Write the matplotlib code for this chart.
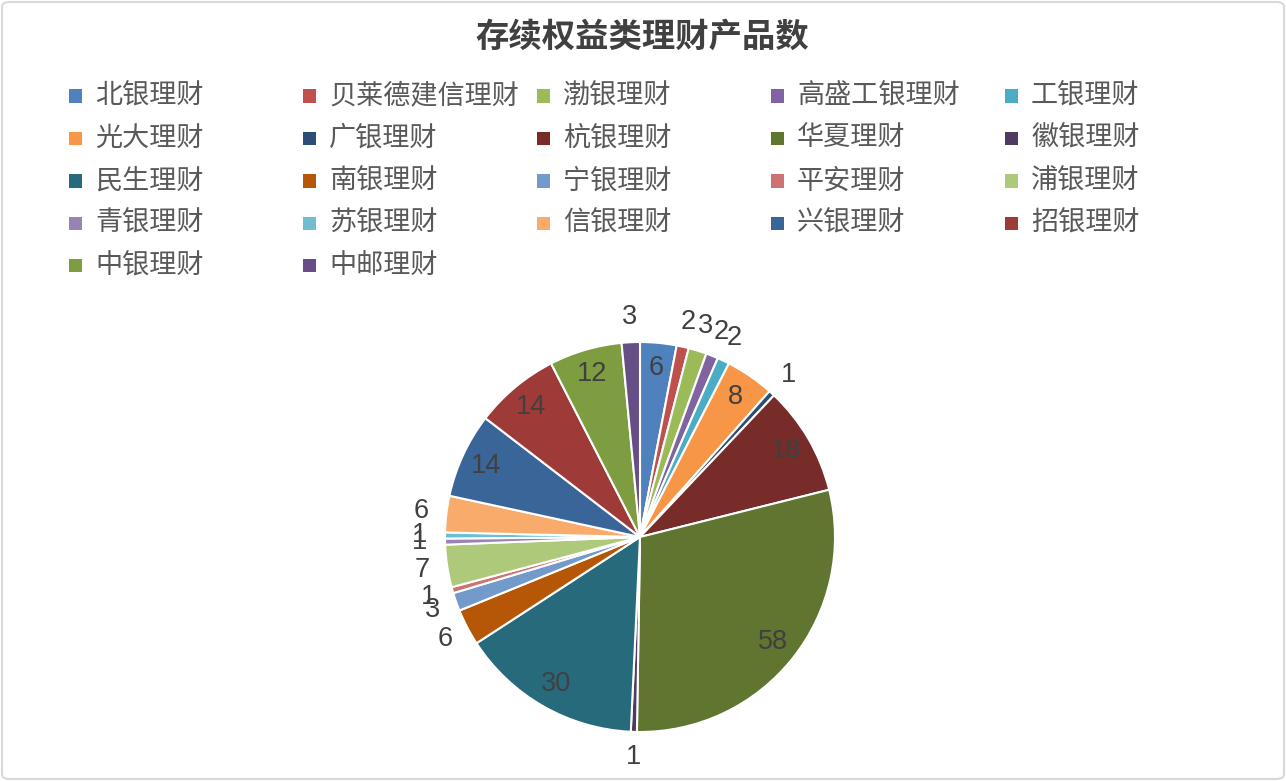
import numpy as np
import matplotlib
matplotlib.use('Agg')
import matplotlib.pyplot as plt
from matplotlib.patches import FancyBboxPatch, Rectangle

plt.rcParams['font.family'] = ['Noto Sans CJK SC', 'DejaVu Sans']

# data
names = ['北银理财', '贝莱德建信理财', '渤银理财', '高盛工银理财', '工银理财',
         '光大理财', '广银理财', '杭银理财', '华夏理财', '徽银理财',
         '民生理财', '南银理财', '宁银理财', '平安理财', '浦银理财',
         '青银理财', '苏银理财', '信银理财', '兴银理财', '招银理财',
         '中银理财', '中邮理财']
counts = [6, 2, 3, 2, 2, 8, 1, 18, 58, 1, 30, 6, 3, 1, 7, 1, 1, 6, 14, 14, 12, 3]
colors = ['#4F81BD', '#C0504D', '#9BBB59', '#8064A2', '#4BACC6', '#F79646',
          '#2C4D75', '#772C2A', '#5F7530', '#4D3B62', '#276A7C', '#B65708',
          '#729ACA', '#CD7371', '#AFC97A', '#9983B5', '#6FBDD1', '#F9AB6B',
          '#3A6599', '#9E3B38', '#7E9C40', '#664F87']
inside = ['北银理财', '光大理财', '杭银理财', '华夏理财', '民生理财',
          '兴银理财', '招银理财', '中银理财']

W, H = 1286, 781
fig = plt.figure(figsize=(W / 100, H / 100), dpi=100)

# border
fig.patches.append(FancyBboxPatch((2 / W, 2 / H), 1 - 4 / W, 1 - 4 / H,
                                  boxstyle='round,pad=0,rounding_size=0.006',
                                  transform=fig.transFigure, fill=False,
                                  edgecolor='#D9D9D9', linewidth=1.5))

fig.text(642 / W, 1 - 37 / H, '存续权益类理财产品数', ha='center', va='center',
         fontsize=24, fontweight='bold', color='#404040')

# legend, row-wise, 5 columns
for i, (nm, c) in enumerate(zip(names, colors)):
    r, col = divmod(i, 5)
    x0 = 69 + col * 234
    yc = 96 + r * 42.5
    fig.patches.append(Rectangle((x0 / W, 1 - (yc + 6.5) / H), 13 / W, 13 / H,
                                 transform=fig.transFigure, facecolor=c,
                                 edgecolor='none'))
    fig.text((x0 + 26) / W, 1 - yc / H, nm, ha='left', va='center',
             fontsize=19.5, color='#595959')

# pie
cx, cy, R = 640, 537, 195
L = 1.25
S = 2 * L * R
ax = fig.add_axes([(cx - S / 2) / W, (H - cy - S / 2) / H, S / W, S / H])
ax.set_xlim(-L, L)
ax.set_ylim(-L, L)
ax.set_aspect('equal')
ax.axis('off')
wedges, _ = ax.pie(counts, colors=colors, startangle=90, counterclock=False,
                   radius=1, wedgeprops=dict(edgecolor='white', linewidth=1.5))

total = sum(counts)
cum = np.cumsum([0] + counts[:-1])
for nm, v, c0 in zip(names, counts, cum):
    mid = np.deg2rad((c0 + v / 2) / total * 360)
    rr = 0.87 if nm in inside else 1.13
    ax.text(rr * np.sin(mid), rr * np.cos(mid), str(v), ha='center', va='center',
            fontsize=19.5, color='#404040', family=['Liberation Sans', 'DejaVu Sans'])

fig.savefig('out.png', dpi=100)
